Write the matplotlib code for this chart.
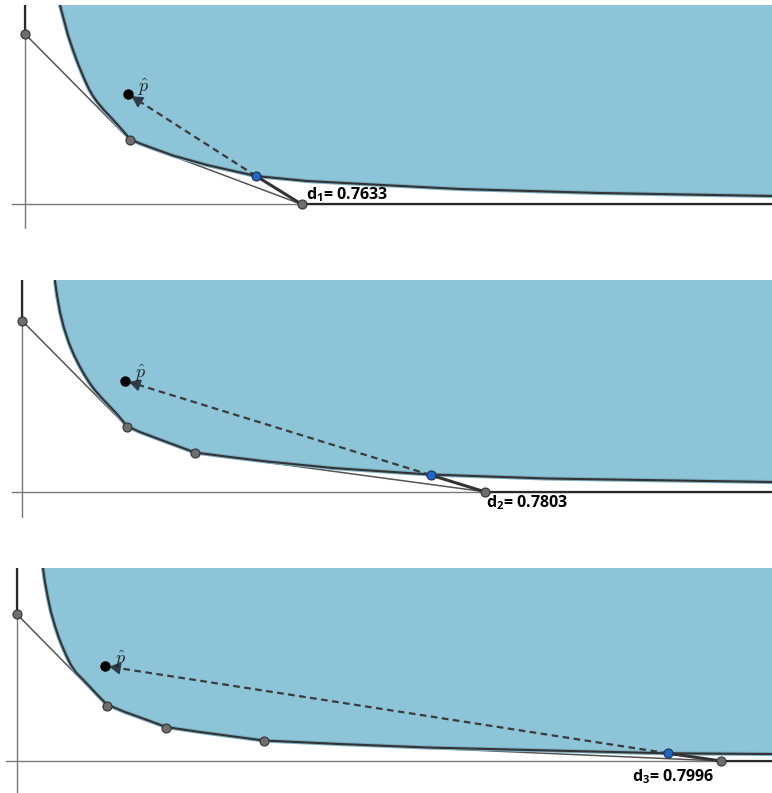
import matplotlib.pyplot as plt

plt.rcParams['mathtext.fontset'] = 'custom'
plt.rcParams['mathtext.rm'] = 'Open Sans:bold'
plt.rcParams['mathtext.it'] = 'Open Sans:bold'
plt.rcParams['mathtext.bf'] = 'Open Sans:bold'

W, H = 772, 793

# ---- panel 1 ----
curve1_x = [0.35, 0.39, 0.43, 0.48, 0.52, 0.56, 0.60, 0.64, 0.68, 0.73, 0.79, 0.87, 0.96, 1.05,
            1.15, 1.30, 1.48, 1.82, 2.31, 2.82, 3.48, 4.35, 5.75, 7.47]
curve1_y = [1.995, 1.845, 1.695, 1.545, 1.435, 1.335, 1.24, 1.155, 1.085, 1.015, 0.945, 0.86,
            0.76, 0.655, 0.61, 0.555, 0.49, 0.395, 0.285, 0.235, 0.20, 0.155, 0.115, 0.085]
hull1_x = [0, 1.05, 2.77]
hull1_y = [1.705, 0.645, 0]
blue1 = (2.31, 0.285)
phat1 = (1.03, 1.105)
d1 = 0.7633

# ---- panel 2 ----
curve2_x = [0.33, 0.35, 0.38, 0.42, 0.47, 0.52, 0.57, 0.62, 0.67, 0.72, 0.78, 0.85, 0.95, 1.05,
            1.18, 1.38, 1.73, 2.08, 2.45, 3.11, 3.78, 4.09, 5.25, 7.50]
curve2_y = [2.107, 1.967, 1.797, 1.637, 1.487, 1.367, 1.267, 1.177, 1.097, 1.027, 0.957, 0.882,
            0.777, 0.657, 0.597, 0.522, 0.392, 0.347, 0.302, 0.237, 0.192, 0.172, 0.132, 0.097]
hull2_x = [0, 1.05, 1.73, 4.625]
hull2_y = [1.71, 0.65, 0.39, 0]
blue2 = (4.085, 0.167)
phat2 = (1.03, 1.11)
d2 = 0.7803

# ---- panel 3 ----
curve3_x = [0.26, 0.28, 0.31, 0.34, 0.38, 0.42, 0.46, 0.50, 0.54, 0.59, 0.66, 0.74, 0.82, 0.90,
            1.08, 1.33, 1.49, 1.83, 2.47, 3.23, 4.11, 5.33, 6.51, 7.55]
curve3_y = [1.93, 1.79, 1.63, 1.49, 1.35, 1.23, 1.13, 1.04, 0.96, 0.885, 0.815, 0.73, 0.645,
            0.565, 0.49, 0.40, 0.34, 0.29, 0.205, 0.17, 0.135, 0.105, 0.077, 0.07]
hull3_x = [0, 0.90, 1.49, 2.474, 7.04]
hull3_y = [1.467, 0.553, 0.333, 0.20, 0]
blue3 = (6.51, 0.077)
phat3 = (0.88, 0.95)
d3 = 0.7996

data = [
    (curve1_x, curve1_y, hull1_x, hull1_y, blue1, phat1, d1),
    (curve2_x, curve2_y, hull2_x, hull2_y, blue2, phat2, d2),
    (curve3_x, curve3_y, hull3_x, hull3_y, blue3, phat3, d3),
]

# layout in pixels: panel box, origin, where axis lines start, label offset (pt)
layout = [
    dict(box=(0, 5, 772, 229), origin=(25, 204.5), xaxis_from=12, yaxis_to=228, label_off=(3, 7)),
    dict(box=(0, 280, 772, 518), origin=(22, 491.7), xaxis_from=12, yaxis_to=517, label_off=(1, -8)),
    dict(box=(0, 568, 772, 793), origin=(17, 761), xaxis_from=6, yaxis_to=793, label_off=(-64, -11.5)),
]

FILL = '#8ec4d8'

fig = plt.figure(figsize=(W / 100, H / 100), dpi=100)

for i, ((cx, cy, hx, hy, blue, phat, d), lay) in enumerate(zip(data, layout)):
    x0, y0, x1, y1 = lay['box']
    ox, oy = lay['origin']
    ax = fig.add_axes([x0 / W, 1 - y1 / H, (x1 - x0) / W, (y1 - y0) / H])
    xmin, xmax = (x0 - ox) / 100, (x1 - ox) / 100
    ymin, ymax = (oy - y1) / 100, (oy - y0) / 100
    ax.set_xlim(xmin, xmax)
    ax.set_ylim(ymin, ymax)
    ax.axis('off')

    # feasible region above the curve
    ax.fill(list(cx) + [xmax, cx[0]], list(cy) + [ymax, ymax], color=FILL, lw=0, zorder=1)

    # coordinate axes
    ax.plot([(lay['xaxis_from'] - ox) / 100, xmax], [0, 0], color='#7a7a7a', lw=1.0, zorder=2)
    ax.plot([0, 0], [(oy - lay['yaxis_to']) / 100, ymax], color='#7a7a7a', lw=1.0, zorder=2)

    # outer polyline with its two rays
    ax.plot([0, 0], [hy[0], ymax], color='#2a2a2a', lw=1.6, zorder=3)
    ax.plot([hx[-1], xmax], [0, 0], color='#2a2a2a', lw=1.6, zorder=3)
    ax.plot(hx, hy, color='#555555', lw=1.1, zorder=3)

    # curve
    ax.plot(cx, cy, color='#7aaec4', lw=3.0, zorder=3, solid_capstyle='butt')
    ax.plot(cx, cy, color='#333333', lw=1.5, zorder=4, solid_joinstyle='round')

    # distance segment + dashed direction to p-hat
    ax.plot([blue[0], hx[-1]], [blue[1], 0], color='#333333', lw=2.2, zorder=5)
    ax.plot([blue[0], phat[0]], [blue[1], phat[1]], color='#3a3a3a', lw=1.6,
            dashes=(3, 2), zorder=5)
    dx, dy = blue[0] - phat[0], blue[1] - phat[1]
    n = (dx ** 2 + dy ** 2) ** 0.5
    tail = (phat[0] + 0.14 * dx / n, phat[1] + 0.14 * dy / n)
    ax.annotate('', xy=phat, xytext=tail,
                arrowprops=dict(arrowstyle='-|>,head_length=0.55,head_width=0.3',
                                color='#2e3c48', lw=1.2, shrinkA=0, shrinkB=3,
                                mutation_scale=12), zorder=6)

    # points
    ax.plot(hx, hy, 'o', ms=6.5, mfc='#6e6e6e', mec='#333333', mew=0.8, zorder=7)
    ax.plot(*blue, 'o', ms=6.5, mfc='#1f66c9', mec='#1b2f4d', mew=0.8, zorder=7)
    ax.plot(*phat, 'o', ms=6.5, mfc='black', mec='black', zorder=7)

    ax.annotate(r'$\hat{p}$', xy=phat, xytext=(11.5, 5), textcoords='offset points',
                fontsize=13, ha='center', va='center', color='#222222',
                math_fontfamily='cm', zorder=8)
    ax.annotate(f'd$_{{{i + 1}}}$= {d:.4f}', xy=(hx[-1], 0), xytext=lay['label_off'],
                textcoords='offset points', fontsize=11.5, fontweight='bold',
                family=['Open Sans', 'DejaVu Sans'], ha='left', va='center', color='black',
                zorder=8)

fig.savefig('out.png', dpi=100)
